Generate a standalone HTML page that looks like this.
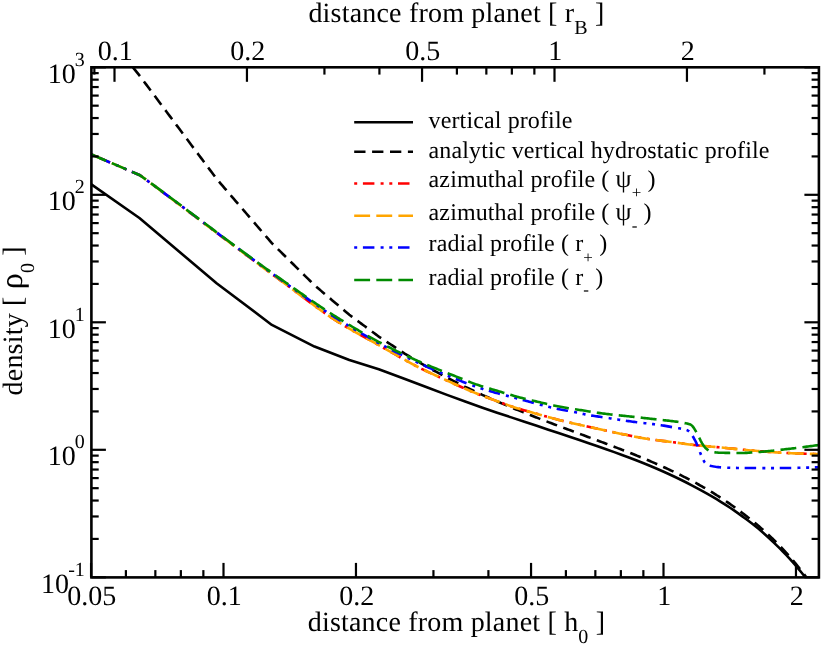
<!DOCTYPE html>
<html><head><meta charset="utf-8"><title>density profiles</title>
<style>
html,body{margin:0;padding:0;background:#fff;}
svg{display:block;will-change:transform;opacity:0.999;font-family:"Liberation Serif",serif;}
text{fill:#000;text-rendering:geometricPrecision;}
.t{letter-spacing:0.007em;}
.l{letter-spacing:0.005em;}
</style></head><body>
<svg width="822" height="645" viewBox="0 0 822 645">
<rect width="822" height="645" fill="#fff"/>
<defs><clipPath id="c"><rect x="91.40" y="67.30" width="727.50" height="510.10"/></clipPath></defs>
<g clip-path="url(#c)">
<polyline points="7.00,125.10 139.41,218.01 216.89,283.51 271.87,324.95 314.51,346.55 349.35,360.08 378.80,369.20 404.32,378.80 426.83,387.29 446.96,394.85 465.17,401.53 481.80,407.44 497.09,412.68 511.26,417.38 524.44,421.72 536.77,425.81 548.36,429.68 559.28,433.33 569.61,436.78 579.41,440.08 588.74,443.24 597.63,446.28 606.12,449.24 614.25,452.13 622.05,454.97 629.55,457.77 636.76,460.54 643.71,463.29 650.41,466.04 656.89,468.78 663.16,471.51 669.23,474.25 675.11,477.00 680.81,479.76 686.35,482.53 691.73,485.32 696.97,488.11 702.06,490.89 707.03,493.65 711.87,496.43 716.58,499.22 721.19,502.04 725.69,504.89 730.08,507.76 734.37,510.67 738.57,513.61 742.68,516.58 746.71,519.56 750.65,522.52 754.51,525.53 758.29,528.61 762.00,531.76 765.64,534.97 769.21,538.22 772.72,541.51 776.16,544.82 779.54,548.16 782.87,551.53 786.13,554.96 789.35,558.42 792.50,561.93 795.61,565.49 798.67,569.10 801.68,572.75 804.64,576.47 807.56,580.25 810.43,584.09 813.26,587.99 816.05,591.95 818.80,596.04 821.51,600.20 824.19,604.43 826.82,608.71 829.42,613.06" fill="none" stroke="#000" stroke-width="2.6" stroke-linejoin="round"/>
<polyline points="132.91,67.30 133.34,67.83 135.16,70.10 136.98,72.38 138.81,74.65 139.41,75.41 140.63,77.04 142.45,79.48 144.28,81.93 146.10,84.37 147.92,86.81 149.75,89.25 151.57,91.70 153.39,94.14 155.22,96.58 157.04,99.02 158.86,101.47 160.69,103.91 162.51,106.35 164.33,108.80 166.16,111.24 167.98,113.68 169.80,116.12 171.63,118.57 173.45,121.01 175.27,123.45 177.10,125.90 178.92,128.34 180.74,130.78 182.57,133.22 184.39,135.67 186.21,138.11 188.04,140.55 189.86,142.99 191.68,145.44 193.51,147.88 195.33,150.32 197.15,152.77 198.98,155.21 200.80,157.65 202.62,160.09 204.45,162.54 206.27,164.98 208.09,167.42 209.92,169.86 211.74,172.31 213.56,174.75 215.38,177.19 216.89,179.21 217.21,179.58 219.03,181.70 220.85,183.82 222.68,185.94 224.50,188.06 226.32,190.18 228.15,192.30 229.97,194.42 231.79,196.55 233.62,198.67 235.44,200.79 237.26,202.91 239.09,205.03 240.91,207.15 242.73,209.27 244.56,211.39 246.38,213.51 248.20,215.63 250.03,217.75 251.85,219.87 253.67,221.99 255.50,224.11 257.32,226.24 259.14,228.36 260.97,230.48 262.79,232.60 264.61,234.72 266.44,236.84 268.26,238.96 270.08,241.08 271.87,243.15 271.91,243.19 273.73,244.99 275.55,246.79 277.38,248.59 279.20,250.39 281.02,252.19 282.85,253.99 284.67,255.79 286.49,257.59 288.32,259.39 290.14,261.19 291.96,262.99 293.79,264.79 295.61,266.59 297.43,268.39 299.26,270.19 301.08,271.99 302.90,273.79 304.73,275.59 306.55,277.39 308.37,279.19 310.20,280.99 312.02,282.79 313.84,284.59 314.51,285.25 315.67,286.23 317.49,287.78 319.31,289.32 321.14,290.87 322.96,292.41 324.78,293.96 326.61,295.51 328.43,297.05 330.25,298.60 332.08,300.14 333.90,301.69 335.72,303.23 337.55,304.78 339.37,306.32 341.19,307.87 343.02,309.42 344.84,310.96 346.66,312.51 348.49,314.05 349.35,314.78 350.31,315.50 352.13,316.85 353.96,318.20 355.78,319.55 357.60,320.90 359.43,322.25 361.25,323.60 363.07,324.95 364.90,326.30 366.72,327.65 368.54,329.00 370.37,330.35 372.19,331.70 374.01,333.05 375.84,334.40 377.66,335.75 378.80,336.60 379.48,337.04 381.31,338.24 383.13,339.44 384.95,340.64 386.78,341.84 388.60,343.04 390.42,344.24 392.25,345.44 394.07,346.64 395.89,347.84 397.72,349.04 399.54,350.24 401.36,351.44 403.19,352.64 404.32,353.39 405.01,353.80 406.83,354.88 408.66,355.96 410.48,357.04 412.30,358.13 414.13,359.21 415.95,360.29 417.77,361.37 419.60,362.45 421.42,363.54 423.24,364.62 425.07,365.70 426.83,366.75 426.89,366.78 428.71,367.77 430.54,368.76 432.36,369.75 434.18,370.74 436.01,371.73 437.83,372.72 439.65,373.70 441.48,374.69 443.30,375.68 445.12,376.67 446.95,377.66 446.96,377.67 448.77,378.58 450.59,379.49 452.42,380.41 454.24,381.33 456.06,382.24 457.88,383.16 459.71,384.07 461.53,384.99 463.35,385.90 465.17,386.82 465.18,386.82 467.00,387.67 468.82,388.53 470.65,389.39 472.47,390.24 474.29,391.10 476.12,391.96 477.94,392.81 479.76,393.67 481.59,394.53 481.80,394.63 483.41,395.34 485.23,396.15 487.06,396.96 488.88,397.77 490.70,398.58 492.53,399.39 494.35,400.20 496.17,401.01 497.09,401.41 498.00,401.80 499.82,402.57 501.64,403.34 503.47,404.11 505.29,404.88 507.11,405.65 508.94,406.43 510.76,407.20 511.26,407.41 512.58,407.95 514.41,408.69 516.23,409.43 518.05,410.17 519.88,410.92 521.70,411.66 523.52,412.40 524.44,412.77 525.35,413.13 527.17,413.85 528.99,414.57 530.82,415.29 532.64,416.00 534.46,416.72 536.29,417.44 536.77,417.63 538.11,418.15 539.93,418.85 541.76,419.55 543.58,420.25 545.40,420.95 547.23,421.66 548.36,422.09 549.05,422.35 550.87,423.04 552.70,423.73 554.52,424.42 556.34,425.11 558.17,425.80 559.28,426.22 559.99,426.48 561.81,427.17 563.64,427.85 565.46,428.53 567.28,429.21 569.11,429.89 569.61,430.08 570.93,430.57 572.75,431.25 574.58,431.92 576.40,432.60 578.22,433.28 579.41,433.72 580.05,433.95 581.87,434.63 583.69,435.31 585.52,435.98 587.34,436.66 588.74,437.18 589.16,437.34 590.99,438.01 592.81,438.69 594.63,439.37 596.46,440.05 597.63,440.49 598.28,440.73 600.10,441.42 601.93,442.10 603.75,442.79 605.57,443.47 606.12,443.67 607.40,444.16 609.22,444.85 611.04,445.54 612.87,446.24 614.25,446.76 614.69,446.93 616.51,447.63 618.34,448.34 620.16,449.04 621.98,449.74 622.05,449.77 623.81,450.46 625.63,451.17 627.45,451.89 629.28,452.61 629.55,452.71 631.10,453.33 632.92,454.06 634.75,454.80 636.57,455.53 636.76,455.60 638.39,456.27 640.22,457.02 642.04,457.77 643.71,458.45 643.86,458.52 645.69,459.28 647.51,460.05 649.33,460.82 650.41,461.27 651.16,461.59 652.98,462.38 654.80,463.17 656.63,463.96 656.89,464.07 658.45,464.76 660.27,465.57 662.10,466.39 663.16,466.86 663.92,467.21 665.74,468.04 667.57,468.88 669.23,469.64 669.39,469.71 671.21,470.57 673.04,471.44 674.86,472.30 675.11,472.41 676.68,473.18 678.51,474.07 680.33,474.96 680.81,475.20 682.15,475.87 683.98,476.79 685.80,477.71 686.35,477.98 687.62,478.65 689.45,479.60 691.27,480.55 691.73,480.79 693.09,481.52 694.92,482.50 696.74,483.48 696.97,483.61 698.56,484.49 700.38,485.51 702.06,486.44 702.21,486.53 704.03,487.58 705.85,488.63 707.03,489.30 707.68,489.69 709.50,490.78 711.32,491.87 711.87,492.19 713.15,492.98 714.97,494.11 716.58,495.10 716.79,495.24 718.62,496.40 720.44,497.57 721.19,498.04 722.26,498.75 724.09,499.96 725.69,501.02 725.91,501.17 727.73,502.42 729.56,503.67 730.08,504.02 731.38,504.95 733.20,506.24 734.37,507.07 735.03,507.55 736.85,508.88 738.57,510.14 738.67,510.22 740.50,511.60 742.32,512.98 742.68,513.26 744.14,514.39 745.97,515.79 746.71,516.36 747.79,517.21 749.61,518.63 750.65,519.43 751.44,520.07 753.26,521.54 754.51,522.55 755.08,523.03 756.91,524.55 758.29,525.71 758.73,526.09 760.55,527.66 762.00,528.91 762.38,529.25 764.20,530.88 765.64,532.17 766.02,532.52 767.85,534.20 769.21,535.46 769.67,535.90 771.49,537.64 772.72,538.81 773.32,539.40 775.14,541.20 776.16,542.20 776.96,543.02 778.79,544.87 779.54,545.64 780.61,546.76 782.43,548.68 782.87,549.13 784.26,550.64 786.08,552.61 786.13,552.67 787.90,554.65 789.35,556.26 789.73,556.70 791.55,558.80 792.50,559.90 793.37,560.93 795.20,563.10 795.61,563.59 797.02,565.31 798.67,567.33 798.84,567.55 800.67,569.85 801.68,571.12 802.49,572.18 804.31,574.54 804.64,574.97 806.14,576.96 806.46,577.40" fill="none" stroke="#000" stroke-width="2.6" stroke-linejoin="round" stroke-dasharray="11.3 6.6" stroke-dashoffset="0"/>
<polyline points="91.50,154.50 140.00,175.20 142.27,176.89 144.54,178.58 146.81,180.28 149.08,181.97 151.35,183.67 153.63,185.36 155.90,187.06 158.17,188.76 160.44,190.46 162.71,192.16 164.98,193.86 167.25,195.56 169.52,197.26 171.79,198.97 174.06,200.67 176.33,202.38 178.61,204.09 180.88,205.80 183.15,207.51 185.42,209.22 187.69,210.93 189.96,212.64 192.23,214.35 194.50,216.07 196.77,217.78 199.04,219.49 201.31,221.21 203.59,222.92 205.86,224.64 208.13,226.35 210.40,228.06 212.67,229.78 214.94,231.50 217.21,233.22 219.48,234.93 221.75,236.65 224.02,238.36 226.29,240.07 228.57,241.77 230.84,243.48 233.11,245.18 235.38,246.88 237.65,248.58 239.92,250.28 242.19,251.98 244.46,253.67 246.73,255.37 249.00,257.06 251.27,258.76 253.55,260.45 255.82,262.14 258.09,263.83 260.36,265.51 262.63,267.20 264.90,268.88 267.17,270.56 269.44,272.25 271.71,273.92 273.98,275.60 276.25,277.27 278.53,278.95 280.80,280.61 283.07,282.28 285.34,283.95 287.61,285.63 289.88,287.32 292.15,289.02 294.42,290.73 296.69,292.43 298.96,294.14 301.23,295.85 303.51,297.56 305.78,299.26 308.05,300.95 310.32,302.64 312.59,304.32 314.86,305.98 317.13,307.63 319.40,309.27 321.67,310.89 323.94,312.48 326.21,314.06 328.48,315.61 330.76,317.13 333.03,318.62 335.30,320.09 337.57,321.53 339.84,322.94 342.11,324.34 344.38,325.71 346.65,327.07 348.92,328.41 351.19,329.73 353.46,331.04 355.74,332.33 358.01,333.62 360.28,334.90 362.55,336.16 364.82,337.43 367.09,338.68 369.36,339.94 371.63,341.19 373.90,342.45 376.17,343.70 378.44,344.96 380.72,346.22 382.99,347.49 385.26,348.77 387.53,350.06 389.80,351.35 392.07,352.64 394.34,353.93 396.61,355.23 398.88,356.52 401.15,357.80 403.42,359.08 405.70,360.35 407.97,361.61 410.24,362.85 412.51,364.08 414.78,365.29 417.05,366.49 419.32,367.65 421.59,368.80 423.86,369.91 426.13,370.99 428.40,372.06 430.68,373.12 432.95,374.18 435.22,375.23 437.49,376.28 439.76,377.31 442.03,378.35 444.30,379.37 446.57,380.40 448.84,381.42 451.11,382.43 453.38,383.45 455.66,384.47 457.93,385.49 460.20,386.51 462.47,387.53 464.74,388.54 467.01,389.54 469.28,390.52 471.55,391.48 473.82,392.41 476.09,393.32 478.36,394.21 480.64,395.09 482.91,395.95 485.18,396.80 487.45,397.64 489.72,398.48 491.99,399.32 494.26,400.15 496.53,400.99 498.80,401.83 501.07,402.66 503.34,403.50 505.62,404.32 507.89,405.13 510.16,405.92 512.43,406.69 514.70,407.43 516.97,408.14 519.24,408.84 521.51,409.52 523.78,410.18 526.05,410.83 528.32,411.48 530.60,412.12 532.87,412.76 535.14,413.40 537.41,414.04 539.68,414.68 541.95,415.33 544.22,415.97 546.49,416.60 548.76,417.23 551.03,417.86 553.30,418.47 555.58,419.08 557.85,419.67 560.12,420.25 562.39,420.82 564.66,421.38 566.93,421.92 569.20,422.45 571.47,422.98 573.74,423.50 576.01,424.02 578.28,424.53 580.56,425.04 582.83,425.54 585.10,426.04 587.37,426.53 589.64,427.02 591.91,427.51 594.18,428.00 596.45,428.49 598.72,428.98 600.99,429.48 603.26,429.98 605.54,430.48 607.81,430.98 610.08,431.48 612.35,431.98 614.62,432.47 616.89,432.95 619.16,433.43 621.43,433.90 623.70,434.37 625.97,434.84 628.24,435.31 630.52,435.78 632.79,436.25 635.06,436.70 637.33,437.14 639.60,437.57 641.87,437.98 644.14,438.37 646.41,438.74 648.68,439.08 650.95,439.41 653.22,439.72 655.49,440.01 657.77,440.30 660.04,440.57 662.31,440.85 664.58,441.12 666.85,441.40 669.12,441.68 671.39,441.97 673.66,442.28 675.93,442.59 678.20,442.91 680.47,443.23 682.75,443.55 685.02,443.87 687.29,444.18 689.56,444.48 691.83,444.77 694.10,445.04 696.37,445.30 698.64,445.53 700.91,445.75 703.18,445.96 705.45,446.15 707.73,446.34 710.00,446.53 712.27,446.72 714.54,446.91 716.81,447.10 719.08,447.30 721.35,447.50 723.62,447.72 725.89,447.95 728.16,448.18 730.43,448.42 732.71,448.66 734.98,448.90 737.25,449.14 739.52,449.37 741.79,449.59 744.06,449.81 746.33,450.02 748.60,450.22 750.87,450.42 753.14,450.62 755.41,450.81 757.69,451.00 759.96,451.19 762.23,451.37 764.50,451.54 766.77,451.71 769.04,451.87 771.31,452.03 773.58,452.18 775.85,452.33 778.12,452.48 780.39,452.62 782.67,452.76 784.94,452.89 787.21,453.02 789.48,453.13 791.75,453.24 794.02,453.34 796.29,453.42 798.56,453.50 800.83,453.57 803.10,453.65 805.37,453.72 807.65,453.78 809.92,453.84 812.19,453.89 814.46,453.93 816.73,453.97 819.00,454.00" fill="none" stroke="#ff0000" stroke-width="2.6" stroke-linejoin="round" stroke-dasharray="3 5.7 11.5 6.2 3 5.7" stroke-dashoffset="0"/>
<polyline points="91.50,154.50 140.00,175.20 142.27,176.89 144.54,178.58 146.81,180.28 149.08,181.97 151.35,183.67 153.63,185.36 155.90,187.06 158.17,188.76 160.44,190.46 162.71,192.16 164.98,193.86 167.25,195.56 169.52,197.26 171.79,198.97 174.06,200.67 176.33,202.38 178.61,204.09 180.88,205.80 183.15,207.51 185.42,209.22 187.69,210.93 189.96,212.64 192.23,214.35 194.50,216.07 196.77,217.78 199.04,219.49 201.31,221.21 203.59,222.92 205.86,224.64 208.13,226.35 210.40,228.06 212.67,229.78 214.94,231.50 217.21,233.22 219.48,234.93 221.75,236.65 224.02,238.36 226.29,240.07 228.57,241.77 230.84,243.48 233.11,245.18 235.38,246.88 237.65,248.58 239.92,250.28 242.19,251.98 244.46,253.67 246.73,255.37 249.00,257.06 251.27,258.76 253.55,260.45 255.82,262.14 258.09,263.83 260.36,265.51 262.63,267.20 264.90,268.88 267.17,270.56 269.44,272.25 271.71,273.92 273.98,275.60 276.25,277.27 278.53,278.95 280.80,280.61 283.07,282.28 285.34,283.95 287.61,285.63 289.88,287.32 292.15,289.02 294.42,290.73 296.69,292.43 298.96,294.14 301.23,295.85 303.51,297.56 305.78,299.26 308.05,300.95 310.32,302.64 312.59,304.32 314.86,305.98 317.13,307.63 319.40,309.27 321.67,310.89 323.94,312.48 326.21,314.06 328.48,315.61 330.76,317.13 333.03,318.62 335.30,320.09 337.57,321.53 339.84,322.94 342.11,324.34 344.38,325.71 346.65,327.07 348.92,328.41 351.19,329.73 353.46,331.04 355.74,332.33 358.01,333.62 360.28,334.90 362.55,336.16 364.82,337.43 367.09,338.68 369.36,339.94 371.63,341.19 373.90,342.45 376.17,343.70 378.44,344.96 380.72,346.22 382.99,347.49 385.26,348.77 387.53,350.06 389.80,351.35 392.07,352.64 394.34,353.93 396.61,355.23 398.88,356.52 401.15,357.80 403.42,359.08 405.70,360.35 407.97,361.61 410.24,362.85 412.51,364.08 414.78,365.29 417.05,366.49 419.32,367.65 421.59,368.80 423.86,369.91 426.13,370.99 428.40,372.06 430.68,373.12 432.95,374.18 435.22,375.23 437.49,376.28 439.76,377.31 442.03,378.35 444.30,379.37 446.57,380.40 448.84,381.42 451.11,382.43 453.38,383.45 455.66,384.47 457.93,385.49 460.20,386.51 462.47,387.53 464.74,388.54 467.01,389.54 469.28,390.52 471.55,391.48 473.82,392.41 476.09,393.32 478.36,394.21 480.64,395.09 482.91,395.95 485.18,396.80 487.45,397.64 489.72,398.48 491.99,399.32 494.26,400.15 496.53,400.99 498.80,401.83 501.07,402.66 503.34,403.50 505.62,404.32 507.89,405.13 510.16,405.92 512.43,406.69 514.70,407.43 516.97,408.14 519.24,408.84 521.51,409.52 523.78,410.18 526.05,410.83 528.32,411.48 530.60,412.12 532.87,412.76 535.14,413.40 537.41,414.04 539.68,414.68 541.95,415.33 544.22,415.97 546.49,416.60 548.76,417.23 551.03,417.86 553.30,418.47 555.58,419.08 557.85,419.67 560.12,420.25 562.39,420.82 564.66,421.38 566.93,421.92 569.20,422.45 571.47,422.98 573.74,423.50 576.01,424.02 578.28,424.53 580.56,425.04 582.83,425.54 585.10,426.04 587.37,426.53 589.64,427.02 591.91,427.51 594.18,428.00 596.45,428.49 598.72,428.98 600.99,429.48 603.26,429.98 605.54,430.48 607.81,430.98 610.08,431.48 612.35,431.98 614.62,432.47 616.89,432.95 619.16,433.43 621.43,433.90 623.70,434.37 625.97,434.84 628.24,435.31 630.52,435.78 632.79,436.25 635.06,436.70 637.33,437.14 639.60,437.57 641.87,437.98 644.14,438.37 646.41,438.74 648.68,439.08 650.95,439.41 653.22,439.72 655.49,440.01 657.77,440.30 660.04,440.57 662.31,440.85 664.58,441.12 666.85,441.40 669.12,441.68 671.39,441.97 673.66,442.28 675.93,442.59 678.20,442.91 680.47,443.23 682.75,443.55 685.02,443.87 687.29,444.18 689.56,444.48 691.83,444.77 694.10,445.04 696.37,445.30 698.64,445.53 700.91,445.75 703.18,445.96 705.45,446.15 707.73,446.34 710.00,446.53 712.27,446.72 714.54,446.91 716.81,447.10 719.08,447.30 721.35,447.50 723.62,447.72 725.89,447.95 728.16,448.18 730.43,448.42 732.71,448.66 734.98,448.90 737.25,449.14 739.52,449.37 741.79,449.59 744.06,449.81 746.33,450.02 748.60,450.22 750.87,450.42 753.14,450.62 755.41,450.81 757.69,451.00 759.96,451.19 762.23,451.37 764.50,451.54 766.77,451.71 769.04,451.87 771.31,452.03 773.58,452.18 775.85,452.33 778.12,452.48 780.39,452.62 782.67,452.76 784.94,452.89 787.21,453.02 789.48,453.13 791.75,453.24 794.02,453.34 796.29,453.42 798.56,453.50 800.83,453.57 803.10,453.65 805.37,453.72 807.65,453.78 809.92,453.84 812.19,453.89 814.46,453.93 816.73,453.97 819.00,454.00" fill="none" stroke="#ffa500" stroke-width="2.6" stroke-linejoin="round" stroke-dasharray="15.9 6.2" stroke-dashoffset="0"/>
<polyline points="91.50,154.50 140.00,175.20 141.36,176.20 142.72,177.21 144.08,178.21 145.44,179.22 146.80,180.22 148.16,181.23 149.53,182.23 150.89,183.24 152.25,184.25 153.61,185.26 154.97,186.27 156.33,187.27 157.69,188.28 159.05,189.29 160.41,190.30 161.77,191.32 163.13,192.33 164.49,193.34 165.85,194.35 167.21,195.36 168.58,196.38 169.94,197.39 171.30,198.41 172.66,199.42 174.02,200.44 175.38,201.45 176.74,202.47 178.10,203.49 179.46,204.51 180.82,205.53 182.18,206.55 183.54,207.57 184.90,208.59 186.26,209.61 187.63,210.63 188.99,211.66 190.35,212.68 191.71,213.70 193.07,214.73 194.43,215.75 195.79,216.77 197.15,217.80 198.51,218.82 199.87,219.84 201.23,220.87 202.59,221.89 203.95,222.91 205.31,223.93 206.68,224.96 208.04,225.98 209.40,227.00 210.76,228.02 212.12,229.05 213.48,230.07 214.84,231.09 216.20,232.12 217.56,233.14 218.92,234.16 220.28,235.18 221.64,236.21 223.00,237.22 224.36,238.24 225.73,239.26 227.09,240.27 228.45,241.28 229.81,242.29 231.17,243.30 232.53,244.31 233.89,245.32 235.25,246.33 236.61,247.34 237.97,248.35 239.33,249.36 240.69,250.37 242.05,251.38 243.41,252.38 244.78,253.39 246.14,254.40 247.50,255.40 248.86,256.41 250.22,257.41 251.58,258.42 252.94,259.42 254.30,260.42 255.66,261.42 257.02,262.42 258.38,263.42 259.74,264.42 261.10,265.41 262.46,266.41 263.83,267.40 265.19,268.39 266.55,269.39 267.91,270.38 269.27,271.36 270.63,272.35 271.99,273.34 273.35,274.32 274.71,275.30 276.07,276.28 277.43,277.26 278.79,278.24 280.15,279.21 281.52,280.18 282.88,281.16 284.24,282.12 285.60,283.10 286.96,284.07 288.32,285.04 289.68,286.01 291.04,286.99 292.40,287.96 293.76,288.94 295.12,289.91 296.48,290.88 297.84,291.86 299.20,292.83 300.57,293.80 301.93,294.77 303.29,295.74 304.65,296.71 306.01,297.67 307.37,298.63 308.73,299.59 310.09,300.55 311.45,301.50 312.81,302.46 314.17,303.40 315.53,304.35 316.89,305.29 318.25,306.22 319.62,307.15 320.98,308.08 322.34,309.00 323.70,309.92 325.06,310.83 326.42,311.73 327.78,312.63 329.14,313.53 330.50,314.41 331.86,315.30 333.22,316.17 334.58,317.04 335.94,317.90 337.30,318.75 338.67,319.61 340.03,320.46 341.39,321.31 342.75,322.15 344.11,322.99 345.47,323.83 346.83,324.66 348.19,325.49 349.55,326.31 350.91,327.14 352.27,327.96 353.63,328.77 354.99,329.58 356.35,330.39 357.72,331.19 359.08,331.99 360.44,332.79 361.80,333.58 363.16,334.36 364.52,335.15 365.88,335.93 367.24,336.70 368.60,337.47 369.96,338.24 371.32,339.00 372.68,339.76 374.04,340.51 375.40,341.26 376.77,342.00 378.13,342.74 379.49,343.48 380.85,344.21 382.21,344.94 383.57,345.66 384.93,346.37 386.29,347.09 387.65,347.80 389.01,348.50 390.37,349.20 391.73,349.90 393.09,350.60 394.45,351.29 395.82,351.98 397.18,352.67 398.54,353.35 399.90,354.03 401.26,354.71 402.62,355.38 403.98,356.05 405.34,356.71 406.70,357.37 408.06,358.03 409.42,358.69 410.78,359.34 412.14,359.98 413.51,360.63 414.87,361.27 416.23,361.90 417.59,362.54 418.95,363.17 420.31,363.79 421.67,364.41 423.03,365.03 424.39,365.64 425.75,366.25 427.11,366.86 428.47,367.46 429.83,368.06 431.19,368.66 432.56,369.25 433.92,369.83 435.28,370.42 436.64,371.00 438.00,371.58 439.36,372.17 440.72,372.74 442.08,373.32 443.44,373.90 444.80,374.47 446.16,375.04 447.52,375.61 448.88,376.18 450.24,376.74 451.61,377.31 452.97,377.86 454.33,378.42 455.69,378.97 457.05,379.52 458.41,380.06 459.77,380.60 461.13,381.14 462.49,381.67 463.85,382.19 465.21,382.72 466.57,383.23 467.93,383.74 469.29,384.25 470.66,384.75 472.02,385.25 473.38,385.74 474.74,386.22 476.10,386.70 477.46,387.17 478.82,387.63 480.18,388.09 481.54,388.54 482.90,388.98 484.26,389.42 485.62,389.84 486.98,390.26 488.34,390.67 489.71,391.08 491.07,391.47 492.43,391.86 493.79,392.25 495.15,392.63 496.51,393.00 497.87,393.37 499.23,393.74 500.59,394.10 501.95,394.46 503.31,394.82 504.67,395.17 506.03,395.53 507.39,395.88 508.76,396.23 510.12,396.58 511.48,396.94 512.84,397.29 514.20,397.65 515.56,398.01 516.92,398.37 518.28,398.73 519.64,399.10 521.00,399.47 522.36,399.85 523.72,400.22 525.08,400.60 526.44,400.97 527.81,401.34 529.17,401.72 530.53,402.09 531.89,402.46 533.25,402.83 534.61,403.20 535.97,403.56 537.33,403.92 538.69,404.28 540.05,404.63 541.41,404.99 542.77,405.35 544.13,405.71 545.49,406.07 546.86,406.42 548.22,406.77 549.58,407.11 550.94,407.44 552.30,407.76 553.66,408.07 555.02,408.37 556.38,408.65 557.74,408.93 559.10,409.19 560.46,409.45 561.82,409.70 563.18,409.95 564.55,410.19 565.91,410.44 567.27,410.68 568.63,410.93 569.99,411.19 571.35,411.45 572.71,411.72 574.07,412.01 575.43,412.30 576.79,412.60 578.15,412.90 579.51,413.21 580.87,413.51 582.23,413.81 583.60,414.10 584.96,414.38 586.32,414.65 587.68,414.91 589.04,415.15 590.40,415.38 591.76,415.60 593.12,415.81 594.48,416.02 595.84,416.22 597.20,416.41 598.56,416.61 599.92,416.80 601.28,417.00 602.65,417.19 604.01,417.39 605.37,417.59 606.73,417.79 608.09,418.00 609.45,418.20 610.81,418.41 612.17,418.62 613.53,418.83 614.89,419.04 616.25,419.25 617.61,419.45 618.97,419.67 620.33,419.88 621.70,420.09 623.06,420.30 624.42,420.51 625.78,420.72 627.14,420.93 628.50,421.13 629.86,421.33 631.22,421.53 632.58,421.72 633.94,421.91 635.30,422.08 636.66,422.25 638.02,422.42 639.38,422.58 640.75,422.73 642.11,422.88 643.47,423.03 644.83,423.18 646.19,423.33 647.55,423.48 648.91,423.63 650.27,423.78 651.63,423.93 652.99,424.09 654.35,424.26 655.71,424.43 657.07,424.61 658.43,424.79 659.80,424.99 661.16,425.19 662.52,425.41 663.88,425.64 665.24,425.88 666.60,426.12 667.96,426.37 669.32,426.62 670.68,426.87 672.04,427.12 673.40,427.37 674.76,427.62 676.12,427.86 677.48,428.07 678.85,428.28 680.21,428.49 681.57,428.71 682.93,428.97 684.29,429.27 685.65,429.64 687.01,430.13 688.37,430.84 689.73,432.15 691.09,433.79 692.45,435.76 693.81,438.03 695.17,440.56 696.54,443.42 697.90,446.88 699.26,450.35 700.62,453.87 701.98,457.05 703.34,459.94 704.70,462.45 706.06,463.85 707.42,464.63 708.78,465.21 710.14,465.64 711.50,466.01 712.86,466.32 714.22,466.58 715.59,466.79 716.95,466.95 718.31,467.09 719.67,467.22 721.03,467.33 722.39,467.43 723.75,467.51 725.11,467.58 726.47,467.65 727.83,467.72 729.19,467.78 730.55,467.83 731.91,467.87 733.27,467.89 734.64,467.91 736.00,467.92 737.36,467.94 738.72,467.95 740.08,467.96 741.44,467.98 742.80,467.99 744.16,468.00 745.52,468.01 746.88,468.02 748.24,468.03 749.60,468.04 750.96,468.04 752.32,468.05 753.69,468.06 755.05,468.06 756.41,468.07 757.77,468.08 759.13,468.08 760.49,468.09 761.85,468.09 763.21,468.09 764.57,468.09 765.93,468.10 767.29,468.10 768.65,468.10 770.01,468.10 771.37,468.10 772.74,468.10 774.10,468.10 775.46,468.09 776.82,468.09 778.18,468.08 779.54,468.07 780.90,468.06 782.26,468.05 783.62,468.03 784.98,468.02 786.34,468.00 787.70,467.99 789.06,467.97 790.42,467.95 791.79,467.93 793.15,467.91 794.51,467.88 795.87,467.86 797.23,467.83 798.59,467.81 799.95,467.78 801.31,467.75 802.67,467.72 804.03,467.69 805.39,467.66 806.75,467.63 808.11,467.59 809.47,467.56 810.84,467.52 812.20,467.49 813.56,467.45 814.92,467.42 816.28,467.38 817.64,467.34 819.00,467.30" fill="none" stroke="#0000ff" stroke-width="2.6" stroke-linejoin="round" stroke-dasharray="3 5.7 11.5 6.2 3 5.7" stroke-dashoffset="0"/>
<polyline points="91.50,154.50 140.00,175.20 141.36,176.19 142.72,177.18 144.08,178.18 145.44,179.17 146.80,180.17 148.16,181.16 149.53,182.16 150.89,183.15 152.25,184.15 153.61,185.15 154.97,186.15 156.33,187.15 157.69,188.15 159.05,189.16 160.41,190.16 161.77,191.16 163.13,192.17 164.49,193.17 165.85,194.18 167.21,195.19 168.58,196.19 169.94,197.20 171.30,198.21 172.66,199.22 174.02,200.23 175.38,201.25 176.74,202.26 178.10,203.28 179.46,204.29 180.82,205.31 182.18,206.33 183.54,207.35 184.90,208.37 186.26,209.40 187.63,210.42 188.99,211.44 190.35,212.47 191.71,213.49 193.07,214.52 194.43,215.54 195.79,216.57 197.15,217.59 198.51,218.62 199.87,219.64 201.23,220.66 202.59,221.69 203.95,222.71 205.31,223.73 206.68,224.76 208.04,225.78 209.40,226.80 210.76,227.82 212.12,228.85 213.48,229.87 214.84,230.90 216.20,231.92 217.56,232.95 218.92,233.97 220.28,234.99 221.64,236.01 223.00,237.03 224.36,238.05 225.73,239.06 227.09,240.07 228.45,241.08 229.81,242.08 231.17,243.09 232.53,244.09 233.89,245.10 235.25,246.10 236.61,247.11 237.97,248.11 239.33,249.11 240.69,250.11 242.05,251.11 243.41,252.11 244.78,253.11 246.14,254.11 247.50,255.10 248.86,256.10 250.22,257.10 251.58,258.09 252.94,259.08 254.30,260.07 255.66,261.07 257.02,262.05 258.38,263.04 259.74,264.03 261.10,265.01 262.46,266.00 263.83,266.98 265.19,267.96 266.55,268.94 267.91,269.92 269.27,270.90 270.63,271.87 271.99,272.84 273.35,273.81 274.71,274.78 276.07,275.75 277.43,276.72 278.79,277.68 280.15,278.64 281.52,279.60 282.88,280.56 284.24,281.52 285.60,282.47 286.96,283.43 288.32,284.39 289.68,285.35 291.04,286.30 292.40,287.26 293.76,288.22 295.12,289.18 296.48,290.13 297.84,291.09 299.20,292.04 300.57,292.99 301.93,293.94 303.29,294.89 304.65,295.84 306.01,296.79 307.37,297.73 308.73,298.67 310.09,299.61 311.45,300.54 312.81,301.48 314.17,302.41 315.53,303.33 316.89,304.25 318.25,305.17 319.62,306.09 320.98,307.00 322.34,307.90 323.70,308.81 325.06,309.70 326.42,310.60 327.78,311.48 329.14,312.37 330.50,313.24 331.86,314.11 333.22,314.98 334.58,315.84 335.94,316.69 337.30,317.54 338.67,318.39 340.03,319.24 341.39,320.09 342.75,320.93 344.11,321.77 345.47,322.60 346.83,323.44 348.19,324.27 349.55,325.09 350.91,325.92 352.27,326.74 353.63,327.56 354.99,328.37 356.35,329.18 357.72,329.99 359.08,330.79 360.44,331.59 361.80,332.38 363.16,333.17 364.52,333.96 365.88,334.74 367.24,335.52 368.60,336.29 369.96,337.06 371.32,337.82 372.68,338.58 374.04,339.33 375.40,340.08 376.77,340.83 378.13,341.56 379.49,342.30 380.85,343.02 382.21,343.75 383.57,344.46 384.93,345.17 386.29,345.88 387.65,346.58 389.01,347.27 390.37,347.96 391.73,348.65 393.09,349.33 394.45,350.00 395.82,350.67 397.18,351.34 398.54,352.00 399.90,352.66 401.26,353.31 402.62,353.96 403.98,354.60 405.34,355.25 406.70,355.88 408.06,356.51 409.42,357.14 410.78,357.77 412.14,358.39 413.51,359.01 414.87,359.62 416.23,360.23 417.59,360.84 418.95,361.44 420.31,362.04 421.67,362.64 423.03,363.23 424.39,363.81 425.75,364.39 427.11,364.96 428.47,365.52 429.83,366.07 431.19,366.62 432.56,367.17 433.92,367.72 435.28,368.27 436.64,368.82 438.00,369.36 439.36,369.91 440.72,370.45 442.08,370.99 443.44,371.53 444.80,372.07 446.16,372.60 447.52,373.14 448.88,373.67 450.24,374.21 451.61,374.74 452.97,375.27 454.33,375.81 455.69,376.34 457.05,376.88 458.41,377.42 459.77,377.97 461.13,378.52 462.49,379.07 463.85,379.63 465.21,380.18 466.57,380.73 467.93,381.28 469.29,381.82 470.66,382.35 472.02,382.87 473.38,383.38 474.74,383.88 476.10,384.36 477.46,384.83 478.82,385.28 480.18,385.72 481.54,386.15 482.90,386.58 484.26,386.99 485.62,387.41 486.98,387.81 488.34,388.21 489.71,388.61 491.07,389.01 492.43,389.41 493.79,389.80 495.15,390.20 496.51,390.60 497.87,391.01 499.23,391.42 500.59,391.83 501.95,392.24 503.31,392.66 504.67,393.07 506.03,393.48 507.39,393.89 508.76,394.30 510.12,394.70 511.48,395.10 512.84,395.50 514.20,395.89 515.56,396.27 516.92,396.65 518.28,397.01 519.64,397.38 521.00,397.73 522.36,398.08 523.72,398.43 525.08,398.77 526.44,399.11 527.81,399.45 529.17,399.78 530.53,400.11 531.89,400.43 533.25,400.75 534.61,401.07 535.97,401.39 537.33,401.71 538.69,402.02 540.05,402.33 541.41,402.65 542.77,402.96 544.13,403.27 545.49,403.59 546.86,403.90 548.22,404.21 549.58,404.51 550.94,404.81 552.30,405.11 553.66,405.41 555.02,405.69 556.38,405.98 557.74,406.25 559.10,406.52 560.46,406.79 561.82,407.04 563.18,407.29 564.55,407.53 565.91,407.76 567.27,407.99 568.63,408.21 569.99,408.43 571.35,408.65 572.71,408.86 574.07,409.07 575.43,409.28 576.79,409.49 578.15,409.70 579.51,409.91 580.87,410.12 582.23,410.33 583.60,410.54 584.96,410.76 586.32,410.97 587.68,411.19 589.04,411.41 590.40,411.63 591.76,411.84 593.12,412.06 594.48,412.27 595.84,412.48 597.20,412.69 598.56,412.89 599.92,413.09 601.28,413.28 602.65,413.47 604.01,413.65 605.37,413.82 606.73,413.99 608.09,414.15 609.45,414.31 610.81,414.47 612.17,414.62 613.53,414.77 614.89,414.92 616.25,415.06 617.61,415.21 618.97,415.35 620.33,415.49 621.70,415.63 623.06,415.77 624.42,415.91 625.78,416.05 627.14,416.19 628.50,416.33 629.86,416.47 631.22,416.61 632.58,416.76 633.94,416.90 635.30,417.05 636.66,417.20 638.02,417.35 639.38,417.50 640.75,417.65 642.11,417.80 643.47,417.95 644.83,418.10 646.19,418.25 647.55,418.40 648.91,418.55 650.27,418.70 651.63,418.86 652.99,419.01 654.35,419.16 655.71,419.31 657.07,419.46 658.43,419.61 659.80,419.77 661.16,419.91 662.52,420.06 663.88,420.20 665.24,420.34 666.60,420.48 667.96,420.63 669.32,420.77 670.68,420.93 672.04,421.09 673.40,421.25 674.76,421.43 676.12,421.62 677.48,421.82 678.85,422.04 680.21,422.27 681.57,422.52 682.93,422.78 684.29,423.05 685.65,423.33 687.01,423.59 688.37,423.88 689.73,424.27 691.09,424.87 692.45,426.14 693.81,427.83 695.17,430.09 696.54,432.49 697.90,435.06 699.26,437.71 700.62,440.57 701.98,443.09 703.34,445.24 704.70,447.11 706.06,448.53 707.42,449.63 708.78,450.48 710.14,451.16 711.50,451.65 712.86,451.93 714.22,452.17 715.59,452.37 716.95,452.53 718.31,452.64 719.67,452.70 721.03,452.74 722.39,452.77 723.75,452.81 725.11,452.84 726.47,452.86 727.83,452.89 729.19,452.91 730.55,452.93 731.91,452.95 733.27,452.96 734.64,452.97 736.00,452.98 737.36,452.99 738.72,453.00 740.08,453.00 741.44,453.00 742.80,452.98 744.16,452.95 745.52,452.90 746.88,452.83 748.24,452.75 749.60,452.67 750.96,452.57 752.32,452.47 753.69,452.37 755.05,452.26 756.41,452.16 757.77,452.05 759.13,451.95 760.49,451.85 761.85,451.74 763.21,451.62 764.57,451.50 765.93,451.37 767.29,451.24 768.65,451.10 770.01,450.97 771.37,450.82 772.74,450.68 774.10,450.53 775.46,450.38 776.82,450.23 778.18,450.07 779.54,449.92 780.90,449.77 782.26,449.62 783.62,449.46 784.98,449.31 786.34,449.16 787.70,449.00 789.06,448.84 790.42,448.69 791.79,448.53 793.15,448.36 794.51,448.20 795.87,448.04 797.23,447.87 798.59,447.70 799.95,447.53 801.31,447.36 802.67,447.19 804.03,447.02 805.39,446.84 806.75,446.66 808.11,446.48 809.47,446.30 810.84,446.12 812.20,445.94 813.56,445.75 814.92,445.57 816.28,445.38 817.64,445.19 819.00,445.00" fill="none" stroke="#008b00" stroke-width="2.6" stroke-linejoin="round" stroke-dasharray="15.9 6.2" stroke-dashoffset="0"/>
</g>
<g stroke="#000">
<line x1="91.05" y1="577.40" x2="91.05" y2="562.90" stroke-width="2.20"/>
<line x1="125.89" y1="577.40" x2="125.89" y2="570.10" stroke-width="2.20"/>
<line x1="155.35" y1="577.40" x2="155.35" y2="570.10" stroke-width="2.20"/>
<line x1="180.86" y1="577.40" x2="180.86" y2="570.10" stroke-width="2.20"/>
<line x1="203.37" y1="577.40" x2="203.37" y2="570.10" stroke-width="2.20"/>
<line x1="223.50" y1="577.40" x2="223.50" y2="562.90" stroke-width="2.20"/>
<line x1="355.96" y1="577.40" x2="355.96" y2="562.90" stroke-width="2.20"/>
<line x1="433.44" y1="577.40" x2="433.44" y2="570.10" stroke-width="2.20"/>
<line x1="488.41" y1="577.40" x2="488.41" y2="570.10" stroke-width="2.20"/>
<line x1="531.05" y1="577.40" x2="531.05" y2="562.90" stroke-width="2.20"/>
<line x1="565.89" y1="577.40" x2="565.89" y2="570.10" stroke-width="2.20"/>
<line x1="595.35" y1="577.40" x2="595.35" y2="570.10" stroke-width="2.20"/>
<line x1="620.86" y1="577.40" x2="620.86" y2="570.10" stroke-width="2.20"/>
<line x1="643.37" y1="577.40" x2="643.37" y2="570.10" stroke-width="2.20"/>
<line x1="663.50" y1="577.40" x2="663.50" y2="562.90" stroke-width="2.20"/>
<line x1="795.96" y1="577.40" x2="795.96" y2="562.90" stroke-width="2.20"/>
<line x1="94.37" y1="67.30" x2="94.37" y2="74.60" stroke-width="2.20"/>
<line x1="114.50" y1="67.30" x2="114.50" y2="81.80" stroke-width="2.20"/>
<line x1="246.95" y1="67.30" x2="246.95" y2="81.80" stroke-width="2.20"/>
<line x1="324.43" y1="67.30" x2="324.43" y2="74.60" stroke-width="2.20"/>
<line x1="379.41" y1="67.30" x2="379.41" y2="74.60" stroke-width="2.20"/>
<line x1="422.05" y1="67.30" x2="422.05" y2="81.80" stroke-width="2.20"/>
<line x1="456.89" y1="67.30" x2="456.89" y2="74.60" stroke-width="2.20"/>
<line x1="486.34" y1="67.30" x2="486.34" y2="74.60" stroke-width="2.20"/>
<line x1="511.86" y1="67.30" x2="511.86" y2="74.60" stroke-width="2.20"/>
<line x1="534.37" y1="67.30" x2="534.37" y2="74.60" stroke-width="2.20"/>
<line x1="554.50" y1="67.30" x2="554.50" y2="81.80" stroke-width="2.20"/>
<line x1="686.95" y1="67.30" x2="686.95" y2="81.80" stroke-width="2.20"/>
<line x1="764.43" y1="67.30" x2="764.43" y2="74.60" stroke-width="2.20"/>
<line x1="91.40" y1="577.30" x2="105.90" y2="577.30" stroke-width="2.20"/>
<line x1="818.90" y1="577.30" x2="804.40" y2="577.30" stroke-width="2.20"/>
<line x1="91.40" y1="538.92" x2="98.70" y2="538.92" stroke-width="2.20"/>
<line x1="818.90" y1="538.92" x2="811.60" y2="538.92" stroke-width="2.20"/>
<line x1="91.40" y1="516.47" x2="98.70" y2="516.47" stroke-width="2.20"/>
<line x1="818.90" y1="516.47" x2="811.60" y2="516.47" stroke-width="2.20"/>
<line x1="91.40" y1="500.54" x2="98.70" y2="500.54" stroke-width="2.20"/>
<line x1="818.90" y1="500.54" x2="811.60" y2="500.54" stroke-width="2.20"/>
<line x1="91.40" y1="488.18" x2="98.70" y2="488.18" stroke-width="2.20"/>
<line x1="818.90" y1="488.18" x2="811.60" y2="488.18" stroke-width="2.20"/>
<line x1="91.40" y1="478.09" x2="98.70" y2="478.09" stroke-width="2.20"/>
<line x1="818.90" y1="478.09" x2="811.60" y2="478.09" stroke-width="2.20"/>
<line x1="91.40" y1="469.55" x2="98.70" y2="469.55" stroke-width="2.20"/>
<line x1="818.90" y1="469.55" x2="811.60" y2="469.55" stroke-width="2.20"/>
<line x1="91.40" y1="462.16" x2="98.70" y2="462.16" stroke-width="2.20"/>
<line x1="818.90" y1="462.16" x2="811.60" y2="462.16" stroke-width="2.20"/>
<line x1="91.40" y1="455.63" x2="98.70" y2="455.63" stroke-width="2.20"/>
<line x1="818.90" y1="455.63" x2="811.60" y2="455.63" stroke-width="2.20"/>
<line x1="91.40" y1="449.80" x2="105.90" y2="449.80" stroke-width="2.20"/>
<line x1="818.90" y1="449.80" x2="804.40" y2="449.80" stroke-width="2.20"/>
<line x1="91.40" y1="411.42" x2="98.70" y2="411.42" stroke-width="2.20"/>
<line x1="818.90" y1="411.42" x2="811.60" y2="411.42" stroke-width="2.20"/>
<line x1="91.40" y1="388.97" x2="98.70" y2="388.97" stroke-width="2.20"/>
<line x1="818.90" y1="388.97" x2="811.60" y2="388.97" stroke-width="2.20"/>
<line x1="91.40" y1="373.04" x2="98.70" y2="373.04" stroke-width="2.20"/>
<line x1="818.90" y1="373.04" x2="811.60" y2="373.04" stroke-width="2.20"/>
<line x1="91.40" y1="360.68" x2="98.70" y2="360.68" stroke-width="2.20"/>
<line x1="818.90" y1="360.68" x2="811.60" y2="360.68" stroke-width="2.20"/>
<line x1="91.40" y1="350.59" x2="98.70" y2="350.59" stroke-width="2.20"/>
<line x1="818.90" y1="350.59" x2="811.60" y2="350.59" stroke-width="2.20"/>
<line x1="91.40" y1="342.05" x2="98.70" y2="342.05" stroke-width="2.20"/>
<line x1="818.90" y1="342.05" x2="811.60" y2="342.05" stroke-width="2.20"/>
<line x1="91.40" y1="334.66" x2="98.70" y2="334.66" stroke-width="2.20"/>
<line x1="818.90" y1="334.66" x2="811.60" y2="334.66" stroke-width="2.20"/>
<line x1="91.40" y1="328.13" x2="98.70" y2="328.13" stroke-width="2.20"/>
<line x1="818.90" y1="328.13" x2="811.60" y2="328.13" stroke-width="2.20"/>
<line x1="91.40" y1="322.30" x2="105.90" y2="322.30" stroke-width="2.20"/>
<line x1="818.90" y1="322.30" x2="804.40" y2="322.30" stroke-width="2.20"/>
<line x1="91.40" y1="283.92" x2="98.70" y2="283.92" stroke-width="2.20"/>
<line x1="818.90" y1="283.92" x2="811.60" y2="283.92" stroke-width="2.20"/>
<line x1="91.40" y1="261.47" x2="98.70" y2="261.47" stroke-width="2.20"/>
<line x1="818.90" y1="261.47" x2="811.60" y2="261.47" stroke-width="2.20"/>
<line x1="91.40" y1="245.54" x2="98.70" y2="245.54" stroke-width="2.20"/>
<line x1="818.90" y1="245.54" x2="811.60" y2="245.54" stroke-width="2.20"/>
<line x1="91.40" y1="233.18" x2="98.70" y2="233.18" stroke-width="2.20"/>
<line x1="818.90" y1="233.18" x2="811.60" y2="233.18" stroke-width="2.20"/>
<line x1="91.40" y1="223.09" x2="98.70" y2="223.09" stroke-width="2.20"/>
<line x1="818.90" y1="223.09" x2="811.60" y2="223.09" stroke-width="2.20"/>
<line x1="91.40" y1="214.55" x2="98.70" y2="214.55" stroke-width="2.20"/>
<line x1="818.90" y1="214.55" x2="811.60" y2="214.55" stroke-width="2.20"/>
<line x1="91.40" y1="207.16" x2="98.70" y2="207.16" stroke-width="2.20"/>
<line x1="818.90" y1="207.16" x2="811.60" y2="207.16" stroke-width="2.20"/>
<line x1="91.40" y1="200.63" x2="98.70" y2="200.63" stroke-width="2.20"/>
<line x1="818.90" y1="200.63" x2="811.60" y2="200.63" stroke-width="2.20"/>
<line x1="91.40" y1="194.80" x2="105.90" y2="194.80" stroke-width="2.20"/>
<line x1="818.90" y1="194.80" x2="804.40" y2="194.80" stroke-width="2.20"/>
<line x1="91.40" y1="156.42" x2="98.70" y2="156.42" stroke-width="2.20"/>
<line x1="818.90" y1="156.42" x2="811.60" y2="156.42" stroke-width="2.20"/>
<line x1="91.40" y1="133.97" x2="98.70" y2="133.97" stroke-width="2.20"/>
<line x1="818.90" y1="133.97" x2="811.60" y2="133.97" stroke-width="2.20"/>
<line x1="91.40" y1="118.04" x2="98.70" y2="118.04" stroke-width="2.20"/>
<line x1="818.90" y1="118.04" x2="811.60" y2="118.04" stroke-width="2.20"/>
<line x1="91.40" y1="105.68" x2="98.70" y2="105.68" stroke-width="2.20"/>
<line x1="818.90" y1="105.68" x2="811.60" y2="105.68" stroke-width="2.20"/>
<line x1="91.40" y1="95.59" x2="98.70" y2="95.59" stroke-width="2.20"/>
<line x1="818.90" y1="95.59" x2="811.60" y2="95.59" stroke-width="2.20"/>
<line x1="91.40" y1="87.05" x2="98.70" y2="87.05" stroke-width="2.20"/>
<line x1="818.90" y1="87.05" x2="811.60" y2="87.05" stroke-width="2.20"/>
<line x1="91.40" y1="79.66" x2="98.70" y2="79.66" stroke-width="2.20"/>
<line x1="818.90" y1="79.66" x2="811.60" y2="79.66" stroke-width="2.20"/>
<line x1="91.40" y1="73.13" x2="98.70" y2="73.13" stroke-width="2.20"/>
<line x1="818.90" y1="73.13" x2="811.60" y2="73.13" stroke-width="2.20"/>
<line x1="91.40" y1="67.30" x2="105.90" y2="67.30" stroke-width="2.20"/>
<line x1="818.90" y1="67.30" x2="804.40" y2="67.30" stroke-width="2.20"/>
</g>
<rect x="91.40" y="67.30" width="727.50" height="510.10" fill="none" stroke="#000" stroke-width="2.6"/>
<g>
<text x="91.85" y="604.60" font-size="28" text-anchor="middle">0.05</text>
<text x="224.30" y="604.60" font-size="28" text-anchor="middle">0.1</text>
<text x="356.76" y="604.60" font-size="28" text-anchor="middle">0.2</text>
<text x="531.85" y="604.60" font-size="28" text-anchor="middle">0.5</text>
<text x="664.30" y="604.60" font-size="28" text-anchor="middle">1</text>
<text x="796.76" y="604.60" font-size="28" text-anchor="middle">2</text>
<text x="115.20" y="59.90" font-size="28" text-anchor="middle">0.1</text>
<text x="247.65" y="59.90" font-size="28" text-anchor="middle">0.2</text>
<text x="422.75" y="59.90" font-size="28" text-anchor="middle">0.5</text>
<text x="555.20" y="59.90" font-size="28" text-anchor="middle">1</text>
<text x="687.65" y="59.90" font-size="28" text-anchor="middle">2</text>
<text x="84.8" y="65.70" font-size="20" text-anchor="end">3</text>
<text x="75.70" y="82.80" font-size="28" text-anchor="end">10</text>
<text x="84.8" y="193.20" font-size="20" text-anchor="end">2</text>
<text x="75.70" y="210.30" font-size="28" text-anchor="end">10</text>
<text x="84.8" y="320.70" font-size="20" text-anchor="end">1</text>
<text x="75.70" y="337.80" font-size="28" text-anchor="end">10</text>
<text x="84.8" y="448.20" font-size="20" text-anchor="end">0</text>
<text x="75.70" y="465.30" font-size="28" text-anchor="end">10</text>
<text x="84.8" y="575.70" font-size="20" text-anchor="end">-1</text>
<text x="69.04" y="592.80" font-size="28" text-anchor="end">10</text>
<text x="456.5" y="22.0" font-size="28" class="t" text-anchor="middle">distance from planet [ r<tspan font-size="20" dy="12">B</tspan><tspan dy="-12"> ]</tspan></text>
<text x="456.5" y="631.4" font-size="28" class="t" text-anchor="middle">distance from planet [ h<tspan font-size="20" dy="12">0</tspan><tspan dy="-12"> ]</tspan></text>
<text transform="translate(22,320.8) rotate(-90)" font-size="28" class="t" text-anchor="middle">density [ <tspan font-size="32">ρ</tspan><tspan font-size="20" dy="12">0</tspan><tspan dy="-12"> ]</tspan></text>
</g>
<g>
<line x1="354.2" y1="122.2" x2="413.0" y2="122.2" stroke="#000" stroke-width="2.5"/>
<text x="428.6" y="128.1" font-size="24" class="l">vertical profile</text>
<line x1="354.2" y1="151.8" x2="413.0" y2="151.8" stroke="#000" stroke-width="2.5" stroke-dasharray="11.3 6.6"/>
<text x="428.6" y="157.6" font-size="24" class="l">analytic vertical hydrostatic profile</text>
<line x1="354.2" y1="183.6" x2="413.0" y2="183.6" stroke="#ff0000" stroke-width="2.5" stroke-dasharray="3 5.7 11.5 6.2 3 5.7"/>
<text x="428.6" y="186.8" font-size="24" class="l">azimuthal profile ( <tspan font-size="25.5">ψ</tspan><tspan font-size="17" dy="11.5">+</tspan><tspan dy="-11.5"> )</tspan></text>
<line x1="354.2" y1="215.7" x2="413.0" y2="215.7" stroke="#ffa500" stroke-width="2.5" stroke-dasharray="15.9 6.2"/>
<text x="428.6" y="220.0" font-size="24" class="l">azimuthal profile ( <tspan font-size="25.5">ψ</tspan><tspan font-size="17" dy="10.5">-</tspan><tspan dy="-10.5"> )</tspan></text>
<line x1="354.2" y1="247.5" x2="413.0" y2="247.5" stroke="#0000ff" stroke-width="2.5" stroke-dasharray="3 5.7 11.5 6.2 3 5.7"/>
<text x="428.6" y="251.0" font-size="24" class="l">radial profile ( r<tspan font-size="17" dy="11.5">+</tspan><tspan dy="-11.5"> )</tspan></text>
<line x1="354.2" y1="279.9" x2="413.0" y2="279.9" stroke="#008b00" stroke-width="2.5" stroke-dasharray="15.9 6.2"/>
<text x="428.6" y="284.6" font-size="24" class="l">radial profile ( r<tspan font-size="17" dy="10.5">-</tspan><tspan dy="-10.5"> )</tspan></text>
</g>
</svg>
</body></html>
